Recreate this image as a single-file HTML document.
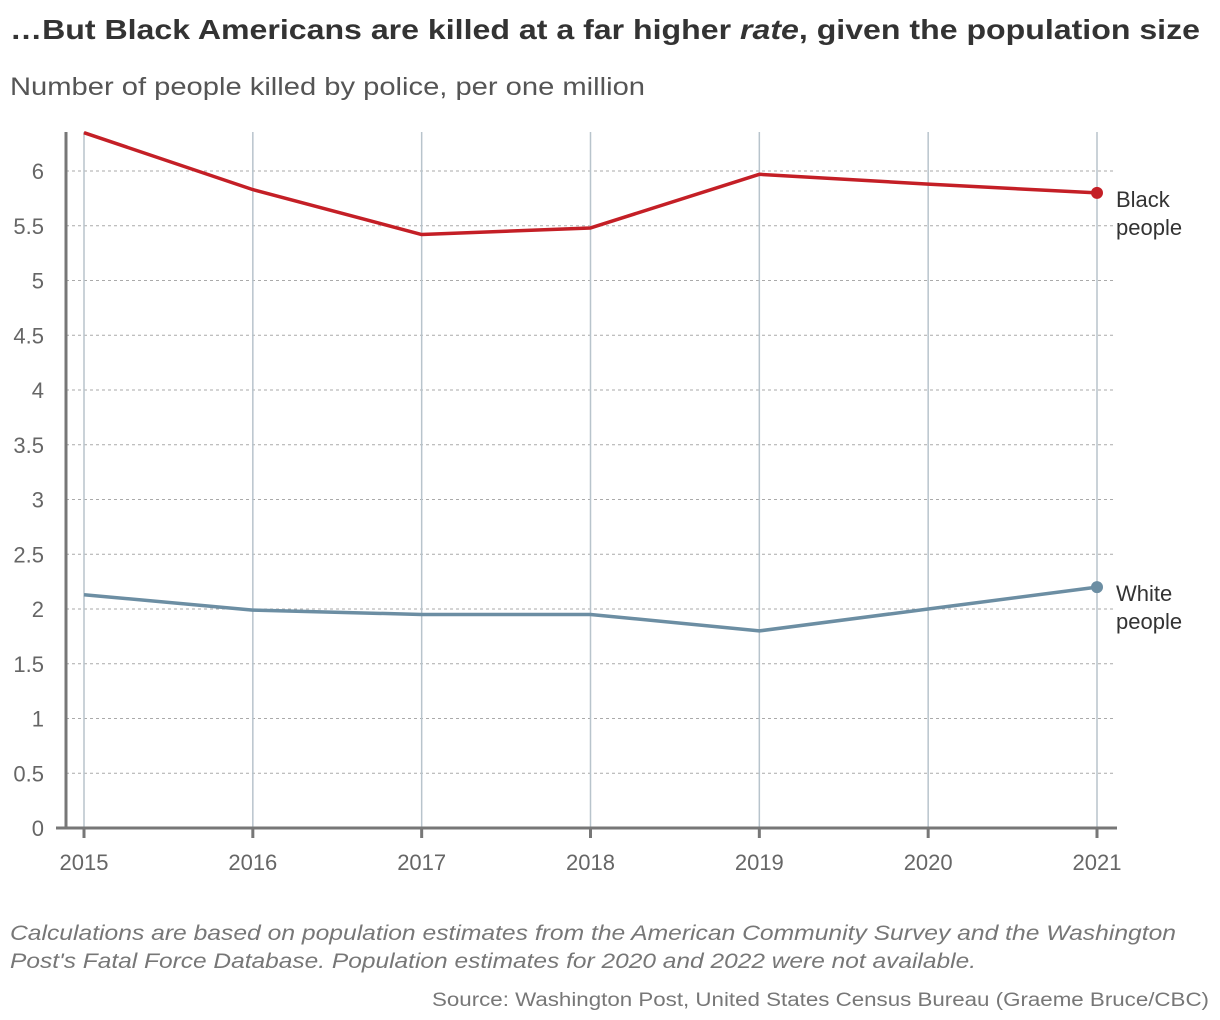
<!DOCTYPE html>
<html><head><meta charset="utf-8"><style>
body{margin:0;background:#fff;font-family:"Liberation Sans",sans-serif;}
#wrap{position:relative;width:1220px;height:1020px;overflow:hidden;}
</style></head><body><div id="wrap">
<svg id="svg" width="1220" height="1020" xmlns="http://www.w3.org/2000/svg">
<text x="10" y="39" font-size="28" font-weight="bold" fill="#333" textLength="1190" lengthAdjust="spacingAndGlyphs">…But Black Americans are killed at a far higher <tspan font-style="italic">rate</tspan>, given the population size</text>
<text x="10" y="95" font-size="25" fill="#555" textLength="635" lengthAdjust="spacingAndGlyphs">Number of people killed by police, per one million</text>
<g id="grid"></g><g id="axes"></g><g id="series"></g>
<text x="10" y="940" font-size="21" font-style="italic" fill="#777" textLength="1166" lengthAdjust="spacingAndGlyphs">Calculations are based on population estimates from the American Community Survey and the Washington</text>
<text x="10" y="968" font-size="21" font-style="italic" fill="#777" textLength="966" lengthAdjust="spacingAndGlyphs">Post's Fatal Force Database. Population estimates for 2020 and 2022 were not available.</text>
<text x="1209" y="1006" font-size="19" fill="#777" text-anchor="end" textLength="777" lengthAdjust="spacingAndGlyphs">Source: Washington Post, United States Census Bureau (Graeme Bruce/CBC)</text>
</svg></div>
<script>
const years=[2015,2016,2017,2018,2019,2020,2021];
const blackValues=[6.35,5.83,5.42,5.48,5.97,5.88,5.80];
const whiteValues=[2.13,1.99,1.95,1.95,1.80,2.00,2.20];
const yTicks=[0,0.5,1,1.5,2,2.5,3,3.5,4,4.5,5,5.5,6];
const NS="http://www.w3.org/2000/svg";
const x=i=>84+i*(1097-84)/6;
const y=v=>828-v*109.5;
function mk(tag,attrs,parent,txt){const e=document.createElementNS(NS,tag);for(const k in attrs)e.setAttribute(k,attrs[k]);if(txt!==undefined)e.textContent=txt;parent.appendChild(e);return e;}
const grid=document.getElementById('grid'),axes=document.getElementById('axes'),series=document.getElementById('series');
yTicks.forEach(t=>{
 if(t>0){const l=mk('line',{x1:66,x2:1115,y1:y(t),y2:y(t),stroke:'#aaa','stroke-width':1,'stroke-dasharray':'3,3'},grid);
 
 }
 const tx=mk('text',{x:44,y:y(t)+8,'font-size':22,fill:'#666','text-anchor':'end'},axes,String(t));
 
 
});
years.forEach((yr,i)=>{
 const l=mk('line',{x1:x(i),x2:x(i),y1:132,y2:828,stroke:'#b8c4cc','stroke-width':1.5},grid);
 
 
 const tk=mk('line',{x1:x(i),x2:x(i),y1:828,y2:838,stroke:'#777','stroke-width':3},axes);
 
 
 const tx=mk('text',{x:x(i),y:870,'font-size':22,fill:'#666','text-anchor':'middle'},axes,String(yr));
 
 
});
const ya=mk('line',{x1:66,x2:66,y1:132,y2:829,stroke:'#777','stroke-width':3},axes);


const xa=mk('line',{x1:56,x2:1117,y1:828,y2:828,stroke:'#777','stroke-width':3},axes);


function draw(vals,color,name,labels){
 const p=mk('polyline',{points:vals.map((v,i)=>x(i)+','+y(v)).join(' '),fill:'none',stroke:color,'stroke-width':3.5,'stroke-linejoin':'round'},series);
 
 
 const n=vals.length-1;
 const c=mk('circle',{cx:x(n),cy:y(vals[n]),r:6,fill:color},series);
 
 
 const t=mk('text',{x:1116,y:y(vals[n])+14,'font-size':22,fill:'#333'},series);
 
 
 mk('tspan',{x:1116,dy:0},t,labels[0]);mk('tspan',{x:1116,dy:28},t,labels[1]);
}
draw(blackValues,'#c41f26','black-people',['Black','people']);
draw(whiteValues,'#6c8ea3','white-people',['White','people']);
</script></body></html>
